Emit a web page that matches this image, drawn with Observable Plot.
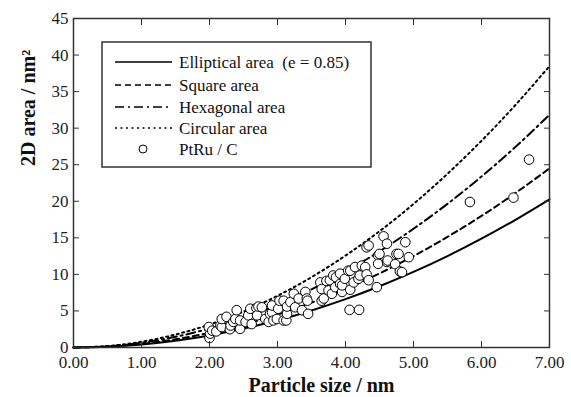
<!DOCTYPE html>
<html><head><meta charset="utf-8">
<script src="https://cdn.jsdelivr.net/npm/d3@7"></script>
<script src="https://cdn.jsdelivr.net/npm/@observablehq/plot@0.6"></script>
<style>
body{margin:0;background:#fff}
#chart{width:571px;height:397px}
#chart svg, #chart svg text{font-family:"Liberation Serif","Times New Roman","DejaVu Serif",serif !important}
</style>
</head><body><div id="chart"></div>
<script>
// Curve sample positions (particle size, nm)
const sizes = [0,0.5,1,1.5,2,2.5,3,3.5,4,4.5,5,5.5,6,6.5,7];
// Curve values (nm^2)
const elliptical = [0,0.10,0.41,0.93,1.65,2.59,3.72,5.07,6.62,8.38,10.34,12.51,14.89,17.47,20.27];
const square     = [0,0.13,0.50,1.13,2.00,3.13,4.50,6.13,8.00,10.13,12.50,15.13,18.00,21.13,24.50];
const hexagonal  = [0,0.16,0.65,1.46,2.60,4.06,5.85,7.96,10.39,13.15,16.24,19.65,23.38,27.44,31.83];
const circular   = [0,0.20,0.79,1.77,3.14,4.91,7.07,9.62,12.57,15.90,19.63,23.76,28.27,33.18,38.48];

// PtRu / C measured particles
const ptX = [2.00,2.01,1.99,2.04,2.10,2.16,2.18,2.18,2.25,2.30,2.31,2.35,2.38,2.40,2.45,2.45,2.53,2.57,2.60,2.62,2.69,2.70,2.72,2.77,2.82,2.87,2.89,2.92,2.92,2.94,
  2.99,3.01,3.03,3.09,3.09,3.13,3.14,3.14,3.19,3.24,3.26,3.31,3.36,3.41,3.43,3.44,3.45,3.63,3.65,3.65,3.68,3.72,3.75,3.77,3.80,3.82,3.85,3.86,3.92,3.95,3.92,3.95,3.99,
  4.04,4.07,4.07,4.12,4.14,4.19,4.21,4.24,4.29,4.31,4.31,4.34,4.34,4.46,4.48,4.48,4.50,4.56,4.61,4.61,4.62,4.73,4.75,4.78,4.80,4.83,4.88,4.93,4.06,4.20,
  5.83,6.47,6.70];
const ptY = [1.3,1.9,2.8,2.3,2.2,3.0,2.8,3.9,4.2,2.5,3.0,3.5,3.9,5.1,2.55,3.7,3.5,4.4,5.3,3.2,5.4,4.4,5.6,5.5,3.9,3.5,4.6,4.8,5.75,3.7,
  3.9,5.3,6.4,6.4,3.7,3.7,4.6,5.6,6.2,7.35,5.5,6.7,5.1,7.6,6.7,6.4,4.6,8.9,8.0,6.4,6.7,9.1,7.8,9.2,7.35,9.85,8.25,9.6,8.7,7.6,10.1,8.5,9.4,
  10.5,7.9,10.5,8.9,11.0,9.4,9.85,11.2,11.0,10.0,13.7,13.95,9.2,8.25,12.6,11.45,12.8,15.2,14.2,11.7,11.9,11.4,12.8,12.8,10.4,10.3,14.4,12.35,5.15,5.15,
  19.9,20.5,25.7];

const xTicks = [0,1,2,3,4,5,6,7];
const yTicks = [0,5,10,15,20,25,30,35,40,45];

const seriesNames = ["Elliptical area  (e = 0.85)","Square area","Hexagonal area","Circular area","PtRu / C"];
const dashes = [null,"6,4","9,4,2,4","2,3.5"];
const curves = [elliptical, square, hexagonal, circular];

const pts = ptX.map((x,i)=>({x, y: ptY[i]}));
const font = "Liberation Serif";
const axisColor = "#333";

const marks = [];
curves.forEach((vals, k) => {
  marks.push(Plot.line(sizes.map((s,i)=>({x:s,y:vals[i]})), {
    x:"x", y:"y", curve:"natural", stroke:"#000", strokeWidth:2,
    strokeDasharray: dashes[k] || undefined
  }));
});
marks.push(Plot.dot(pts, {x:"x", y:"y", r:4.8, stroke:"#000", fill:"#fff", strokeWidth:1}));
marks.push(Plot.axisX(xTicks, {anchor:"bottom", tickSize:-6, tickPadding:14, tickFormat:d=>d.toFixed(2), fontSize:17, fontFamily:font, stroke:axisColor, fill:"#222", label:null}));
marks.push(Plot.axisX(xTicks, {anchor:"top", tickSize:-6, tickFormat:()=>"", stroke:axisColor, label:null}));
marks.push(Plot.axisY(yTicks, {anchor:"left", tickSize:-6, tickPadding:11, fontSize:17, fontFamily:font, stroke:axisColor, fill:"#222", label:null}));
marks.push(Plot.axisY(yTicks, {anchor:"right", tickSize:-6, tickFormat:()=>"", stroke:axisColor, label:null}));
marks.push(Plot.frame({stroke:axisColor, strokeWidth:1.5}));
marks.push(Plot.text(["Particle size / nm"], {frameAnchor:"bottom", dx:10, dy:44, fontSize:20, fontFamily:font, fontWeight:"bold", fill:"#111"}));
marks.push(Plot.text(["2D area / nm²"], {frameAnchor:"left", dx:-45, dy:-17, rotate:-90, fontSize:20, fontFamily:font, fontWeight:"bold", fill:"#111"}));

const chart = Plot.plot({
  width:571, height:397,
  marginLeft:73, marginRight:22, marginTop:18, marginBottom:50,
  x:{domain:[0,7]},
  y:{domain:[0,45]},
  style:{fontFamily:font, background:"#fff", color:"#111"},
  marks
});
document.getElementById("chart").appendChild(chart);

// Legend box inside the plot
const svg = d3.select(chart);
const lg = svg.append("g");
lg.append("rect").attr("x",102).attr("y",42).attr("width",269).attr("height",125)
  .attr("fill","#fff").attr("stroke",axisColor).attr("stroke-width",1.5);
const rowY = [62,85,107,128,149];
seriesNames.forEach((name,i)=>{
  if (i < 4) {
    lg.append("line").attr("x1",115).attr("x2",172).attr("y1",rowY[i]).attr("y2",rowY[i])
      .attr("stroke","#000").attr("stroke-width",1.5)
      .attr("stroke-dasharray", dashes[i] || null);
  } else {
    lg.append("circle").attr("cx",143).attr("cy",rowY[i]).attr("r",4)
      .attr("fill","#fff").attr("stroke","#000").attr("stroke-width",1);
  }
  lg.append("text").attr("x",179).attr("y",rowY[i]).attr("dy","0.35em")
    .attr("text-anchor","start")
    .attr("font-size",17).attr("fill","#111")
    .style("white-space","pre").text(name);
});
</script>
</body></html>
